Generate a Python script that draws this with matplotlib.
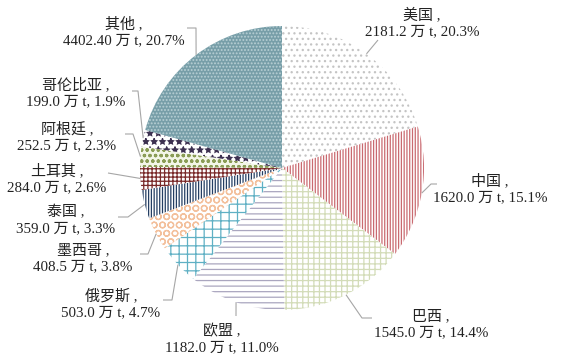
import matplotlib
matplotlib.use("Agg")
import matplotlib.pyplot as plt
import numpy as np

plt.rcParams["font.family"] = ["Liberation Serif", "Noto Sans CJK SC", "DejaVu Sans"]
plt.rcParams["hatch.linewidth"] = 0.9

# 数据（顺时针，从 12 点方向开始）
names = ["美国", "中国", "巴西", "欧盟", "俄罗斯", "墨西哥", "泰国",
         "土耳其", "阿根廷", "哥伦比亚", "其他"]
amounts = ["2181.2", "1620.0", "1545.0", "1182.0", "503.0", "408.5", "359.0",
           "284.0", "252.5", "199.0", "4402.40"]
shares = [20.3, 15.1, 14.4, 11.0, 4.7, 3.8, 3.3, 2.6, 2.3, 1.9, 20.7]

# 填充样式：底色, 花纹颜色, 花纹
faces = ["white", "white", "white", "white", "white", "white", "white",
         "white", "#f3f6e8", "white", "#779ea8"]
hatch_colors = ["#c4c4c4", "#c96a70", "#d3dcb8", "#aaa6bf", "#5fb0c4", "#f3c09c",
                "#243e62", "#7a2a2a", "#8a9c55", "#3c3050", "#b9d0d5"]
hatches = ["...", "||||||", "+++", "---", "++", "OO", "||||||",
           "++++", "ooo", "**", "....."]

# 标签布局（像素坐标）：文本中心, 折点, 末端
CX, CY, R = 282, 168, 142
label_pos = [(422, 23), (490, 189), (431, 324), (222, 339), (111, 304), (83, 258),
             (66, 220), (57, 179), (67, 137), (76, 93), (124, 32)]
knees = [(378, 40), (431, 184), (362, 318), (236, 316), (172, 300), (148, 254),
         (128, 217), (108, 173), (133, 134), (138, 91), (196, 28)]
tails = [(378, 40), (437, 184), (372, 318), (236, 316), (163, 300), (140, 254),
         (118, 217), (108, 173), (125, 134), (132, 91), (187, 28)]


def px(p):
    return ((p[0] - CX) / R, (CY - p[1]) / R)


fig = plt.figure(figsize=(5.62, 3.61), dpi=100)
ax = fig.add_axes([0, 0, 1, 1])

wedges, _ = ax.pie(shares, startangle=90, counterclock=False, radius=1.0,
                   wedgeprops=dict(linewidth=0))
for w, fc, hc, h in zip(wedges, faces, hatch_colors, hatches):
    w.set_facecolor(fc)
    w.set_edgecolor(hc)
    w.set_hatch(h)
    w.set_linewidth(0)

for i, w in enumerate(wedges):
    mid = np.deg2rad((w.theta1 + w.theta2) / 2)
    edge = (np.cos(mid), np.sin(mid))
    k = px(knees[i])
    t = px(tails[i])
    ax.plot([edge[0], k[0], t[0]], [edge[1], k[1], t[1]],
            color="#a6a6a6", lw=0.8, solid_capstyle="butt")
    tx, ty = px(label_pos[i])
    ax.text(tx, ty, f"{names[i]} ,\n{amounts[i]} 万 t, {shares[i]:.1f}%",
            ha="center", va="center", fontsize=10.8, color="#222222",
            linespacing=1.3)

ax.set_xlim(-CX / R, (562 - CX) / R)
ax.set_ylim((CY - 361) / R, CY / R)
ax.set_aspect("auto")
ax.axis("off")

fig.savefig("out.png", dpi=100)
